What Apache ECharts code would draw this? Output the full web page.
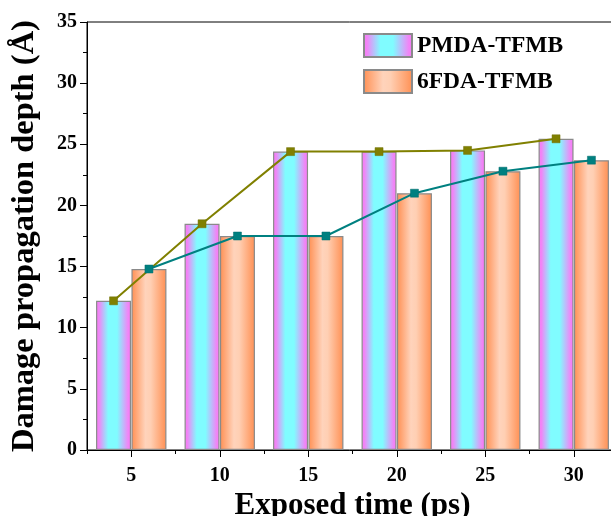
<!DOCTYPE html>
<html>
<head>
<meta charset="utf-8">
<script src="https://cdn.jsdelivr.net/npm/echarts@6/dist/echarts.min.js"></script>
<style>
  html, body { margin: 0; padding: 0; background: #fff; }
  #chart { width: 611px; height: 516px; }
</style>
</head>
<body>
<div id="chart"></div>
<script>
// Exposure times (ps) shown as tick labels on the x axis
const exposedTimes = [5, 10, 15, 20, 25, 30];
// Bar centre positions on the time axis: each pair straddles its tick
const pmdaPositions = [4, 9, 14, 19, 24, 29];
const sixfdaPositions = [6, 11, 16, 21, 26, 31];
// Damage propagation depth (Å)
const pmdaDepth = [12.2, 18.5, 24.4, 24.4, 24.5, 25.45];
const sixfdaDepth = [14.8, 17.5, 17.5, 21.0, 22.8, 23.7];
// Minor tick positions between the labelled times
const minorTimes = [2.5, 7.5, 12.5, 17.5, 22.5, 27.5, 32.5];

const FONT = '"Liberation Serif", "Times New Roman", serif';

const pmdaFill = new echarts.graphic.LinearGradient(0, 0, 1, 0, [
  { offset: 0, color: '#f57cf8' },
  { offset: 0.08, color: '#f283f6' },
  { offset: 0.35, color: '#80fcff' },
  { offset: 0.6, color: '#80fcff' },
  { offset: 0.92, color: '#f283f6' },
  { offset: 1, color: '#f57cf8' }
]);
const sixfdaFill = new echarts.graphic.LinearGradient(0, 0, 1, 0, [
  { offset: 0, color: '#ff8f52' },
  { offset: 0.4, color: '#ffd3bb' },
  { offset: 0.55, color: '#ffcfb3' },
  { offset: 1, color: '#ff8f52' }
]);

const pairs = (xs, ys) => xs.map((x, i) => [x, ys[i]]);

const chart = echarts.init(document.getElementById('chart'), null, { renderer: 'canvas' });

chart.setOption({
  animation: false,
  backgroundColor: '#ffffff',
  grid: {
    left: 87, right: -7, top: 22, bottom: 66,
    outerBoundsMode: 'none', containLabel: false,
    show: true, borderColor: '#000', borderWidth: 1, backgroundColor: 'transparent'
  },
  legend: {
    data: ['PMDA-TFMB', '6FDA-TFMB'],
    orient: 'vertical',
    left: 363, top: 33, padding: 0,
    itemWidth: 48, itemHeight: 23, itemGap: 11,
    icon: 'rect',
    textStyle: { fontFamily: FONT, fontWeight: 'bold', fontSize: 23.5, color: '#000' }
  },
  xAxis: [
    {
      type: 'value', min: 2.5, max: 32.5,
      name: 'Exposed time (ps)', nameLocation: 'middle', nameGap: 31,
      nameTextStyle: { fontFamily: FONT, fontWeight: 'bold', fontSize: 31, color: '#000' },
      axisLine: { show: true, onZero: false, lineStyle: { color: '#000', width: 1 } },
      axisTick: { show: true, customValues: exposedTimes, length: 7, lineStyle: { color: '#000' } },
      axisLabel: {
        customValues: exposedTimes, margin: 16,
        fontFamily: FONT, fontWeight: 'bold', fontSize: 20, color: '#000'
      },
      splitLine: { show: false }
    },
    {
      type: 'value', min: 2.5, max: 32.5, position: 'bottom',
      axisLine: { show: false },
      axisTick: { show: true, customValues: minorTimes, length: 4, lineStyle: { color: '#000' } },
      axisLabel: { show: false },
      splitLine: { show: false }
    }
  ],
  yAxis: {
    type: 'value', min: 0, max: 35, interval: 5,
    name: 'Damage propagation depth (Å)', nameLocation: 'middle', nameGap: 46,
    nameTextStyle: { fontFamily: FONT, fontWeight: 'bold', fontSize: 32.5, color: '#000' },
    axisLine: { show: true, lineStyle: { color: '#000', width: 1 } },
    axisTick: { show: true, length: 7, lineStyle: { color: '#000' } },
    minorTick: { show: true, splitNumber: 2, length: 4, lineStyle: { color: '#000' } },
    axisLabel: { margin: 10, fontFamily: FONT, fontWeight: 'bold', fontSize: 20, color: '#000' },
    splitLine: { show: false }
  },
  series: [
    {
      name: 'PMDA-TFMB', type: 'bar', xAxisIndex: 0,
      data: pairs(pmdaPositions, pmdaDepth),
      barWidth: 35, barGap: '-100%',
      itemStyle: { color: pmdaFill, borderColor: '#8a8a8a', borderWidth: 1.2 },
      z: 2
    },
    {
      name: '6FDA-TFMB', type: 'bar', xAxisIndex: 0,
      data: pairs(sixfdaPositions, sixfdaDepth),
      barWidth: 35, barGap: '-100%',
      itemStyle: { color: sixfdaFill, borderColor: '#8a8a8a', borderWidth: 1.2 },
      z: 2
    },
    {
      name: 'PMDA-TFMB line', type: 'line', xAxisIndex: 0,
      data: pairs(pmdaPositions, pmdaDepth),
      symbol: 'rect', symbolSize: 8,
      lineStyle: { color: '#808000', width: 2 },
      itemStyle: { color: '#808000', borderColor: '#6f6f00', borderWidth: 0.5 },
      z: 5
    },
    {
      name: '6FDA-TFMB line', type: 'line', xAxisIndex: 0,
      data: pairs(sixfdaPositions, sixfdaDepth),
      symbol: 'rect', symbolSize: 8,
      lineStyle: { color: '#008080', width: 2 },
      itemStyle: { color: '#008080', borderColor: '#006c6c', borderWidth: 0.5 },
      z: 5
    }
  ]
});
</script>
</body>
</html>
